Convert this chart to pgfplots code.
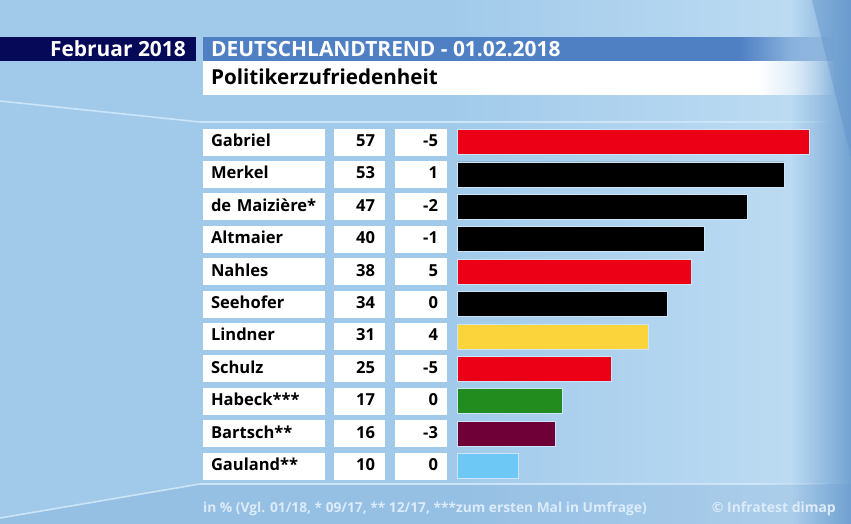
\documentclass[border=0pt]{standalone}
\usepackage{pgfplots}
\pgfplotsset{compat=1.18}
\usepackage{pgfplotstable}
\usepackage{fontspec}
\setmainfont{Open Sans}
\usetikzlibrary{fadings}

\definecolor{bgbase}{RGB}{161,202,234}
\definecolor{bglight}{RGB}{188,219,242}
\definecolor{bgdark}{RGB}{96,146,200}
\definecolor{navy}{RGB}{6,8,88}
\definecolor{hblue}{RGB}{80,128,196}
\definecolor{lineblue}{RGB}{205,228,246}
\definecolor{spdred}{RGB}{235,0,22}
\definecolor{fdpyellow}{RGB}{250,212,58}
\definecolor{gruen}{RGB}{34,140,30}
\definecolor{linke}{RGB}{110,0,55}
\definecolor{afd}{RGB}{110,200,246}
\definecolor{foot}{RGB}{220,236,250}

\pgfplotstableread[col sep=comma]{
row,name,val,chg
1,Gabriel,57,-5
2,Merkel,53,1
3,de Maizière*,47,-2
4,Altmaier,40,-1
5,Nahles,38,5
6,Seehofer,34,0
7,Lindner,31,4
8,Schulz,25,-5
9,Habeck***,17,0
10,Bartsch**,16,-3
11,Gauland**,10,0
}\datatable

\begin{document}
\begin{tikzpicture}[x=1bp,y=-1bp]
\useasboundingbox (0,0) rectangle (851,524);
% background
\fill[bgbase] (0,0) rectangle (851,524);
\shade[left color=bgbase,right color=bglight] (450,0) rectangle (790,524);
\shade[left color=bglight,right color=bgdark!70!bgbase] (790,0) rectangle (851.5,524);
\fill[bgdark,opacity=0.45] (812,0) -- (851.5,0) -- (851.5,160) -- cycle;
\fill[bgdark,opacity=0.18] (0,518) -- (200,484) -- (851.5,484) -- (851.5,524) -- (0,524) -- cycle;
% light lines
\draw[lineblue,line width=1.6bp] (0,101) -- (200,122) -- (760,122);
\draw[lineblue,line width=1.6bp,path fading=east] (759,122) -- (830,122);
\draw[lineblue,line width=1.6bp] (0,518) -- (200,484) -- (760,484);
\draw[lineblue,line width=1.6bp,path fading=east] (759,484) -- (830,484);
% header
\fill[navy] (0,37) rectangle (196,61);
\node[anchor=base east,text=white,font=\fontsize{21}{24}\selectfont\bfseries,inner sep=0pt] at (186,56.5) {Februar 2018};
\fill[hblue] (203,37) rectangle (740,61);
\fill[hblue,path fading=east] (739,37) rectangle (835,61);
\node[anchor=base west,text=white,font=\fontsize{21}{24}\selectfont\bfseries,inner sep=0pt] at (211,56.5) {DEUTSCHLANDTREND - 01.02.2018};
\fill[white] (203,61) rectangle (760,95);
\fill[white,path fading=east] (759,61) rectangle (835,95);
\node[anchor=base west,text=black,font=\fontsize{20.7}{24}\selectfont\bfseries,inner sep=0pt] at (211,85) {Politikerzufriedenheit};
% footer
\node[anchor=base west,text=foot,font=\fontsize{13.8}{16}\selectfont\bfseries,inner sep=0pt] at (203,512) {in \% (Vgl. 01/18, * 09/17, ** 12/17, ***zum ersten Mal in Umfrage)};
\node[anchor=base east,text=foot,font=\fontsize{14}{16}\selectfont\bfseries,inner sep=0pt] at (836,512) {© Infratest dimap};

\coordinate (A) at (457,125.8);
\begin{axis}[
  at={(A)}, anchor=north west,
  scale only axis, width=370.5bp, height=356.4bp,
  xmin=0, xmax=60, ymin=0.5, ymax=11.5, y dir=reverse,
  axis lines=none, clip=false,
  bar width=25bp, bar shift=0pt,
]
\addplot[xbar, fill=spdred, draw=lineblue, line width=0.7bp] coordinates {(57,1) (38,5) (25,8)};
\addplot[xbar, fill=black, draw=lineblue, line width=0.7bp] coordinates {(53,2) (47,3) (40,4) (34,6)};
\addplot[xbar, fill=fdpyellow, draw=lineblue, line width=0.7bp] coordinates {(31,7)};
\addplot[xbar, fill=gruen, draw=lineblue, line width=0.7bp] coordinates {(17,9)};
\addplot[xbar, fill=linke, draw=lineblue, line width=0.7bp] coordinates {(16,10)};
\addplot[xbar, fill=afd, draw=lineblue, line width=0.7bp] coordinates {(10,11)};
% name column
\addplot[draw=none, mark=none, nodes near coords, point meta=explicit symbolic,
  every node near coord/.append style={anchor=center, fill=white, inner xsep=8bp, inner ysep=0pt,
    text width=106bp, align=left, text height=12.5bp, text depth=3.5bp, minimum height=27bp,
    font=\fontsize{16.6}{20}\selectfont\bfseries, text=black}]
  table[x expr=-31.255, y=row, meta=name] {\datatable};
% value column
\addplot[draw=none, mark=none, nodes near coords, point meta=explicit symbolic,
  every node near coord/.append style={anchor=center, fill=white, inner xsep=10bp, inner ysep=0pt,
    text width=31bp, align=right, text height=12.5bp, text depth=3.5bp, minimum height=27bp,
    font=\fontsize{16.6}{20}\selectfont\bfseries, text=black}]
  table[x expr=-15.79, y=row, meta=val] {\datatable};
% change column
\addplot[draw=none, mark=none, nodes near coords, point meta=explicit symbolic,
  every node near coord/.append style={anchor=center, fill=white, inner xsep=9bp, inner ysep=0pt,
    text width=34bp, align=right, text height=12.5bp, text depth=3.5bp, minimum height=27bp,
    font=\fontsize{16.6}{20}\selectfont\bfseries, text=black}]
  table[x expr=-5.83, y=row, meta=chg] {\datatable};
\end{axis}
\end{tikzpicture}
\end{document}
